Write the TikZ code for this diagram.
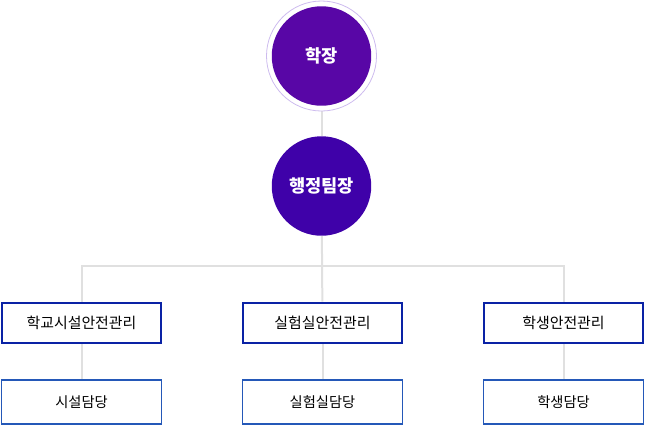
\documentclass[tikz,border=0pt]{standalone}
\usepackage{fontspec}
\setmainfont{Noto Sans CJK KR}
\usepackage{xcolor}
\usetikzlibrary{arrows.meta, calc, positioning, backgrounds}

\definecolor{headviolet}{HTML}{5806A6}
\definecolor{adminviolet}{HTML}{3F01A9}
\definecolor{ringviolet}{HTML}{CDBBEE}
\definecolor{boxblue}{HTML}{0A22A5}
\definecolor{subblue}{HTML}{2458B8}
\definecolor{linkgray}{HTML}{E0E0E0}

\tikzset{
  circ/.style={circle, minimum size=74.6pt, inner sep=0pt, text=white, font=\fontsize{13.2}{15}\selectfont\bfseries},
  unitbox/.style={draw=boxblue, line width=1.6pt, fill=white, minimum width=119.5pt, minimum height=30.5pt, inner sep=0pt, font=\fontsize{11.2}{13}\selectfont},
  subbox/.style={draw=subblue, line width=0.8pt, fill=white, minimum width=120.5pt, minimum height=33pt, inner sep=0pt, font=\fontsize{10.7}{12}\selectfont},
  link/.style={draw=linkgray, line width=1.5pt}
}

\begin{document}
\begin{tikzpicture}[x=0.75pt, y=-0.75pt]
    \useasboundingbox (0,0) rectangle (645,426);

    % 1. 기준 좌표
    \coordinate (bus) at (321.5,266);

    % 2. 원형 노드 (학장, 행정팀장)
    \node[circle, draw=ringviolet, line width=0.6pt, minimum size=82.5pt] (ring) at (321.5,56) {};
    \node[circ, fill=headviolet] (head) at (321.5,56) {학장};
    \node[circ, fill=adminviolet] (admin) at (321.5,186) {행정팀장};

    % 3. 관리 박스와 담당 박스
    \foreach \n/\x/\top/\sub in {1/81.5/학교시설안전관리/시설담당, 2/322.5/실험실안전관리/실험실담당, 3/563.5/학생안전관리/학생담당} {
        \node[unitbox] (box\n) at (\x,323) {\top};
        \node[subbox] (sub\n) at (\x,402) {\sub};
    }

    % 4. 연결선 (배경 레이어)
    \begin{scope}[on background layer]
    \draw[link] (ring) -- (admin);
    \draw[link] (admin) -- (box2);
    \draw[link] (box1.north) |- (bus) -| (box3.north);
    \foreach \n in {1,2,3}
        \draw[link] (box\n) -- (sub\n);
    \end{scope}
\end{tikzpicture}
\end{document}
